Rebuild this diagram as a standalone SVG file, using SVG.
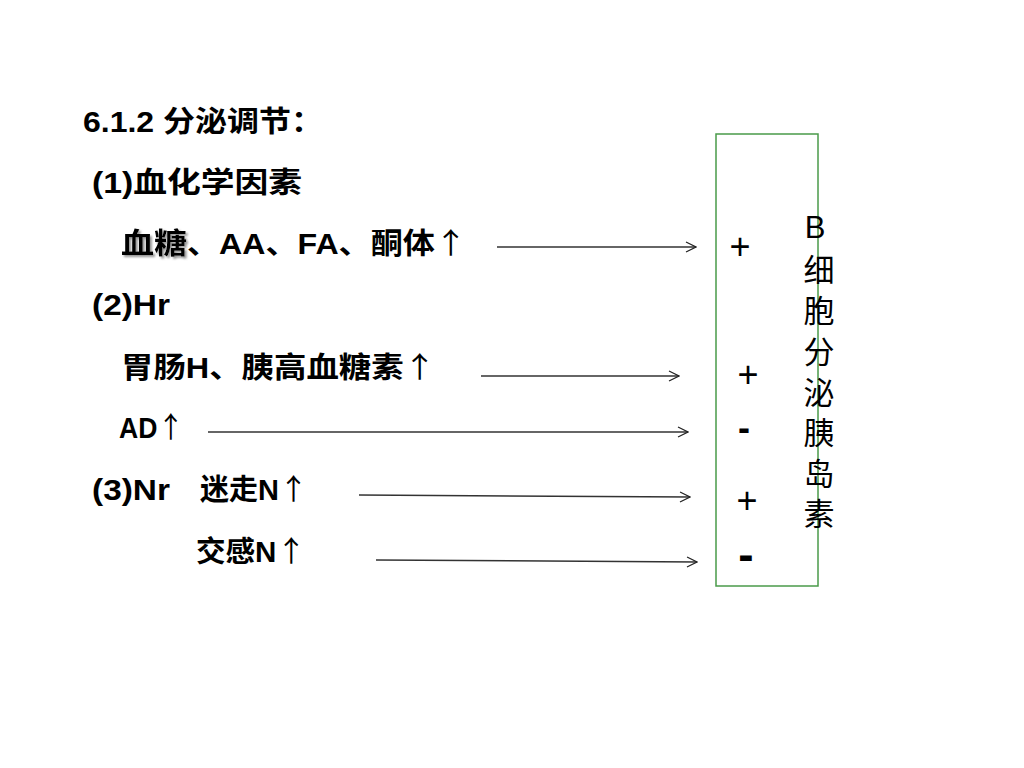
<svg xmlns="http://www.w3.org/2000/svg" width="1024" height="768" viewBox="0 0 1024 768">
<defs>
<marker id="arr" viewBox="0 0 12 12" refX="11" refY="6" markerWidth="12" markerHeight="12" markerUnits="userSpaceOnUse" orient="auto">
<path d="M1,1 L11,6 L1,11" fill="none" stroke="#222" stroke-width="1.2"/>
</marker>
<filter id="sh" x="-10%" y="-10%" width="130%" height="140%">
<feDropShadow dx="2" dy="2" stdDeviation="1" flood-color="#888" flood-opacity="0.9"/>
</filter>
<style>
.t{font-family:"Liberation Sans","Noto Sans CJK SC",sans-serif;font-weight:bold;font-size:29px;fill:#000}
.u{font-family:"Noto Sans CJK SC",sans-serif;font-weight:normal}
.s{font-family:"Liberation Sans","Noto Sans CJK SC",sans-serif;font-size:36px;fill:#000}
.d{font-family:"Liberation Sans","Noto Sans CJK SC",sans-serif;font-weight:bold;font-size:36px;fill:#000}
.v{font-family:"Liberation Sans","Noto Sans CJK SC",sans-serif;font-size:31px;fill:#000}
.c{stroke:#333;stroke-width:1.5;fill:none;marker-end:url(#arr)}
</style>
</defs>
<rect width="1024" height="768" fill="#fff"/>
<g id="text-left">
<text class="t" x="83" y="132" textLength="240" lengthAdjust="spacingAndGlyphs">6.1.2 分泌调节：</text>
<text class="t" x="92" y="193" textLength="210" lengthAdjust="spacingAndGlyphs">(1)血化学因素</text>
<text class="t" x="121" y="254" textLength="66" lengthAdjust="spacingAndGlyphs" filter="url(#sh)">血糖</text>
<text class="t" x="187" y="254" textLength="280" lengthAdjust="spacingAndGlyphs">、AA、FA、酮体<tspan class="u">↑</tspan></text>
<text class="t" x="92" y="315" textLength="78" lengthAdjust="spacingAndGlyphs">(2)Hr</text>
<text class="t" x="121" y="378" textLength="315" lengthAdjust="spacingAndGlyphs">胃肠H、胰高血糖素<tspan class="u">↑</tspan></text>
<text class="t" x="119" y="438" textLength="65" lengthAdjust="spacingAndGlyphs">AD<tspan class="u">↑</tspan></text>
<text class="t" x="92" y="500" textLength="78" lengthAdjust="spacingAndGlyphs">(3)Nr</text>
<text class="t" x="200" y="500" textLength="108" lengthAdjust="spacingAndGlyphs">迷走N<tspan class="u">↑</tspan></text>
<text class="t" x="196" y="562" textLength="110" lengthAdjust="spacingAndGlyphs">交感N<tspan class="u">↑</tspan></text>
</g>
<g id="box">
<rect x="716" y="134" width="102" height="452" fill="none" stroke="#4a9a4a" stroke-width="1.5"/>
</g>
<g id="box-label">
<text class="v" x="815" y="238" text-anchor="middle">B</text>
<text class="v" x="819" y="281" text-anchor="middle">细</text>
<text class="v" x="819" y="322" text-anchor="middle">胞</text>
<text class="v" x="819" y="363" text-anchor="middle">分</text>
<text class="v" x="819" y="404" text-anchor="middle">泌</text>
<text class="v" x="819" y="444" text-anchor="middle">胰</text>
<text class="v" x="819" y="485" text-anchor="middle">岛</text>
<text class="v" x="819" y="525" text-anchor="middle">素</text>
</g>
<g id="signs">
<text class="s" x="740" y="259" text-anchor="middle">+</text>
<text class="s" x="748" y="387" text-anchor="middle">+</text>
<text class="d" x="744" y="440" text-anchor="middle">-</text>
<text class="s" x="747" y="513" text-anchor="middle">+</text>
<text class="d" x="746" y="570" text-anchor="middle" style="font-size:46px">-</text>
</g>
<g id="connectors">
<line class="c" x1="497" y1="247" x2="696" y2="247"/>
<line class="c" x1="481" y1="376" x2="679" y2="376"/>
<line class="c" x1="208" y1="432" x2="688" y2="432"/>
<line class="c" x1="359" y1="495" x2="690" y2="497"/>
<line class="c" x1="376" y1="560" x2="697" y2="562"/>
</g>
</svg>
